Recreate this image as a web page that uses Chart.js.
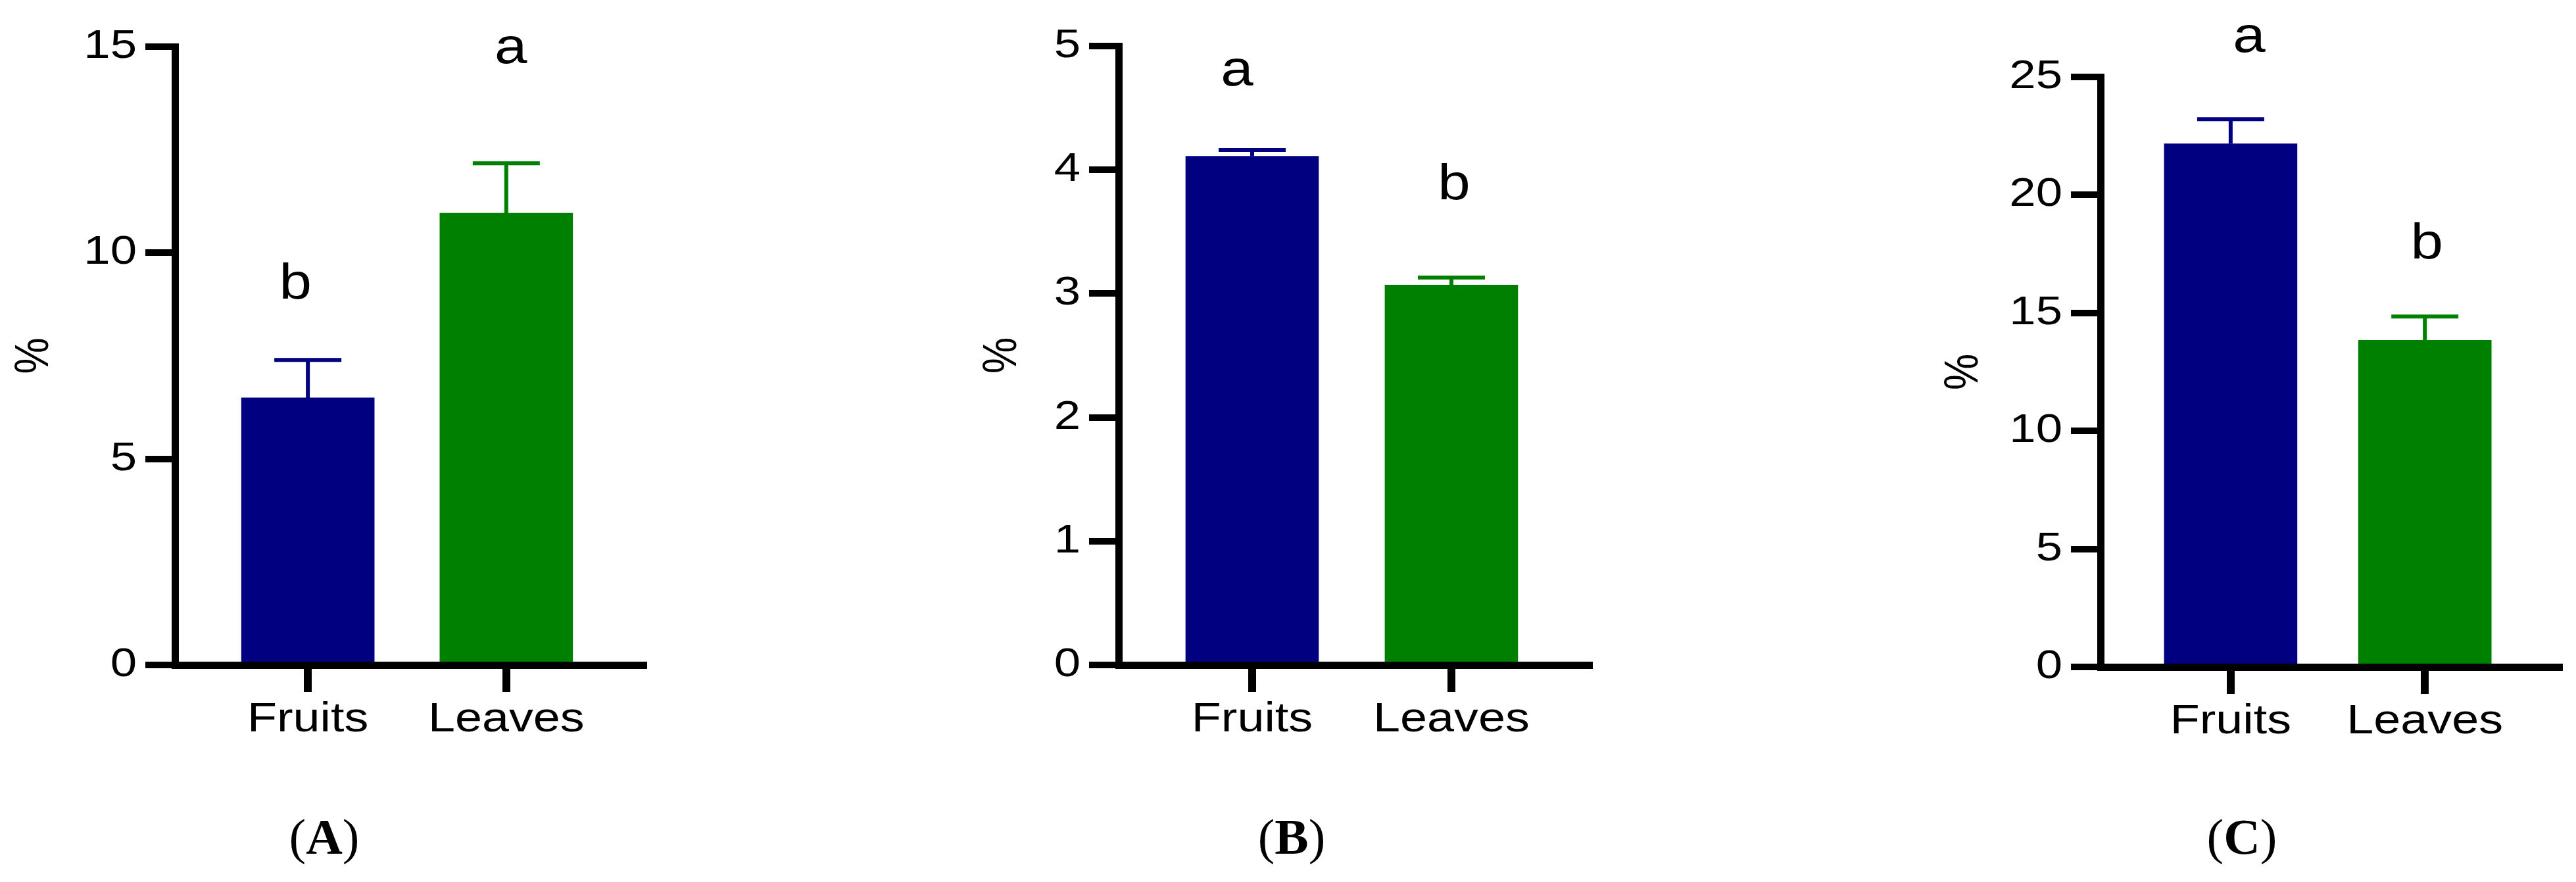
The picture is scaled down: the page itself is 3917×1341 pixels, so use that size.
<!DOCTYPE html>
<html>
<head>
<meta charset="utf-8">
<script src="https://cdn.jsdelivr.net/npm/chart.js@4.4.1/dist/chart.umd.min.js"></script>
<style>
  html, body { margin: 0; padding: 0; background: #fff; }
  #page { position: relative; width: 3917px; height: 1341px; overflow: hidden; background: #fff; }
  canvas { position: absolute; top: 0; }
  .tag {
    position: absolute; top: 1234px; transform: translateX(-50%);
    font-family: "Liberation Serif", serif; font-size: 77px; line-height: 77px;
    color: #000; white-space: nowrap;
  }
</style>
</head>
<body>
<div id="page">
  <canvas id="chartA" width="968" height="1341" style="left:22px"></canvas>
  <canvas id="chartB" width="934" height="1341" style="left:1494px"></canvas>
  <canvas id="chartC" width="947" height="1341" style="left:2956px"></canvas>
  <div class="tag" style="left:493px">(<b>A</b>)</div>
  <div class="tag" style="left:1964px">(<b>B</b>)</div>
  <div class="tag" style="left:3409px">(<b>C</b>)</div>
</div>
<script>
const categories = ["Fruits", "Leaves"];
const barColors = ["#000080", "#008000"];

// panel A
const meanA = [6.48, 10.96];
const errA = [0.92, 1.21];
const lettersA = ["b", "a"];
const letterXA = [0.937, 2.023];
const letterYA = [8.89, 14.6];
const yTicksA = [0, 5, 10, 15];

// panel B
const meanB = [4.11, 3.07];
const errB = [0.05, 0.06];
const lettersB = ["a", "b"];
const letterXB = [0.924, 2.013];
const letterYB = [4.68, 3.76];
const yTicksB = [0, 1, 2, 3, 4, 5];

// panel C
const meanC = [22.17, 13.84];
const errC = [1.04, 1.01];
const lettersC = ["a", "b"];
const letterXC = [1.095, 2.01];
const letterYC = [26.06, 17.31];
const yTicksC = [0, 5, 10, 15, 20, 25];

Chart.defaults.font.family = '"Liberation Sans", Arial, sans-serif';
Chart.defaults.color = "#000";

// the figure's lettering is a bit wider than plain Arial, so widen every text draw
const STRETCH = 1.17;
const stretchText = {
  id: "stretchText",
  beforeInit(chart) {
    const ctx = chart.ctx;
    const fill = ctx.fillText;
    ctx.fillText = function (text, x, y, maxWidth) {
      const m = this.getTransform();
      const p = m.transformPoint(new DOMPoint(x, y));
      this.save();
      this.setTransform(new DOMMatrix().translate(p.x, p.y).scale(STRETCH, 1).translate(-p.x, -p.y).multiply(m));
      if (maxWidth === undefined) fill.call(this, text, x, y);
      else fill.call(this, text, x, y, maxWidth);
      this.restore();
    };
  }
};

const errorBars = {
  id: "errorBars",
  afterDatasetsDraw(chart) {
    const { ctx, scales: { x, y } } = chart;
    const ds = chart.data.datasets[0];
    ctx.save();
    ctx.lineWidth = 6;
    ds.data.forEach((pt, i) => {
      const px = x.getPixelForValue(pt.x);
      const base = y.getPixelForValue(pt.y);
      const top = y.getPixelForValue(pt.y + ds.errors[i]);
      ctx.strokeStyle = ds.backgroundColor[i];
      ctx.beginPath();
      ctx.moveTo(px, base);
      ctx.lineTo(px, top);
      ctx.moveTo(px - 51, top);
      ctx.lineTo(px + 51, top);
      ctx.stroke();
    });
    ctx.restore();
  }
};

const letterMarks = {
  id: "letterMarks",
  afterDatasetsDraw(chart) {
    const { ctx, scales: { x, y } } = chart;
    const ds = chart.data.datasets[0];
    ctx.save();
    ctx.font = '76px "Liberation Sans"';
    ctx.fillStyle = "#000";
    ctx.textAlign = "center";
    ctx.textBaseline = "alphabetic";
    ds.letters.forEach((t, i) => {
      ctx.fillText(t, x.getPixelForValue(ds.letterX[i]), y.getPixelForValue(ds.letterY[i]));
    });
    ctx.restore();
  }
};

function drawPanel(id, box, means, errors, letters, letterX, letterY, yTicks) {
  new Chart(document.getElementById(id), {
    type: "bar",
    data: {
      datasets: [{
        data: means.map((v, i) => ({ x: i + 1, y: v })),
        backgroundColor: barColors,
        barThickness: 202,
        errors: errors,
        letters: letters,
        letterX: letterX,
        letterY: letterY
      }]
    },
    plugins: [stretchText, errorBars, letterMarks],
    options: {
      responsive: false,
      animation: false,
      events: [],
      layout: { padding: { left: 0, top: box.top, right: 12, bottom: 0 } },
      plugins: { legend: { display: false }, tooltip: { enabled: false } },
      scales: {
        x: {
          type: "linear",
          min: 0.33,
          max: 2.69,
          bounds: "data",
          offset: false,
          afterBuildTicks: (s) => { s.ticks = categories.map((_, i) => ({ value: i + 1 })); },
          afterFit: (s) => { s.height = 1341 - box.bottom; },
          ticks: {
            autoSkip: false,
            maxRotation: 0,
            padding: 5,
            font: { size: 63, lineHeight: 1.2 },
            callback: (v) => categories[v - 1]
          },
          grid: { offset: false, drawOnChartArea: false, drawTicks: true, tickLength: 41, lineWidth: 12, color: "#000" },
          border: { display: true, width: 11, color: "#000", z: 1 }
        },
        y: {
          min: yTicks[0],
          max: yTicks[yTicks.length - 1],
          afterBuildTicks: (s) => { s.ticks = yTicks.map((v) => ({ value: v })); },
          afterFit: (s) => { s.width = box.axis - box.left; },
          ticks: { padding: 13, font: { size: 62 } },
          grid: { drawOnChartArea: false, drawTicks: true, tickLength: 45, lineWidth: 10, color: "#000" },
          border: { display: true, width: 11, color: "#000", z: 1 },
          title: { display: true, text: "%", padding: 0, font: { size: 62, lineHeight: 1 } }
        }
      }
    }
  });
}

drawPanel("chartA", { left: 22, axis: 266, top: 71, bottom: 1011 }, meanA, errA, lettersA, letterXA, letterYA, yTicksA);
drawPanel("chartB", { left: 1494, axis: 1701, top: 70, bottom: 1011 }, meanB, errB, lettersB, letterXB, letterYB, yTicksB);
drawPanel("chartC", { left: 2956, axis: 3194, top: 117, bottom: 1014 }, meanC, errC, lettersC, letterXC, letterYC, yTicksC);
</script>
</body>
</html>
